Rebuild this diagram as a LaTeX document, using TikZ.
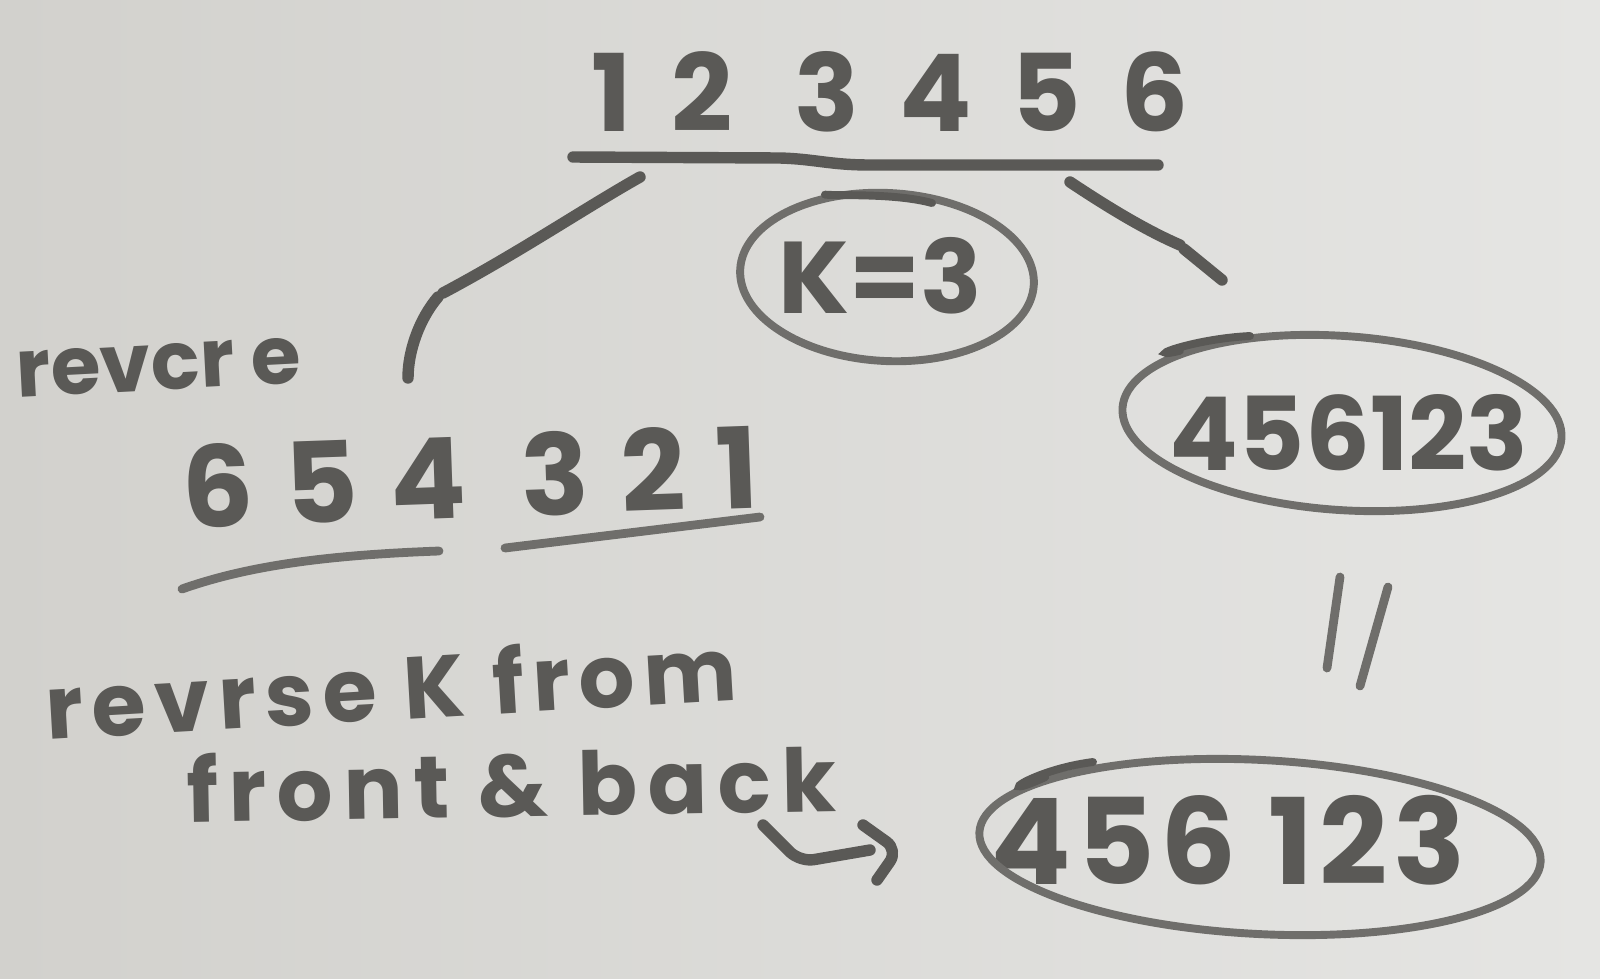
\documentclass[tikz,border=0pt]{standalone}
\usepackage{fontspec}
\setmainfont{Poppins}
\usetikzlibrary{shapes.geometric}
\definecolor{boardlight}{HTML}{E5E5E3}
\definecolor{boarddark}{HTML}{D2D1CD}
\definecolor{ink}{HTML}{5A5956}
\definecolor{inklight}{HTML}{6F6E6B}
\newcommand{\pxu}{0.02cm}
\begin{document}
\begin{tikzpicture}[x=0.02cm,y=-0.02cm,
  ink/.style={draw=ink, line width=6.5pt, line cap=round, line join=round},
  thin ink/.style={draw=inklight, line width=5pt, line cap=round, line join=round},
  loop/.style={draw=inklight, line width=4.5pt, ellipse, inner sep=0pt},
  overlap/.style={draw=ink, line width=4.5pt, line cap=round},
  hand/.style={text=ink, font=\fontsize{#1}{#1}\selectfont\bfseries, inner sep=0pt, anchor=base},
]
\useasboundingbox (0,0) rectangle (1600,978);
\shade[left color=boarddark, right color=boardlight] (0,0) rectangle (1600,978);

% texts
\node[hand=61] (top) at (890,131) {\addfontfeatures{LetterSpace=37}12 3456};
\node[hand=58] (k) at (880,313) {K=3};
\node[hand=46, rotate=3] (revcr) at (160,390) {revcr e};
\node[hand=64, rotate=2] (rev) at (472,518) {\addfontfeatures{LetterSpace=28}654 321};
\node[hand=58] (r1) at (1349,470) {456123};
\node[hand=68] (r2) at (1228,884) {\addfontfeatures{LetterSpace=5}456 123};
\node[hand=50, rotate=3.3] (note1) at (393,720) {\addfontfeatures{LetterSpace=10}revrse K from};
\node[hand=50, rotate=1] (note2) at (512,817) {\addfontfeatures{LetterSpace=12}front \& back};

% circles
\node[loop, rotate=-3, minimum width=294*\pxu, minimum height=168*\pxu] (kc) at (887,277) {};
\node[loop, rotate=-4, minimum width=440*\pxu, minimum height=174*\pxu] (r1c) at (1342,423) {};
\node[loop, rotate=-3, minimum width=562*\pxu, minimum height=174*\pxu] (r2c) at (1260,847) {};
% overlapping pen strokes where each loop was closed
\draw[overlap] (kc.130) .. controls (840,196) and (895,193) .. (932,203);
\draw[overlap] (r1c.160) .. controls (1140,360) and (1190,339) .. (1250,336);
\draw[overlap] (r2c.165) .. controls (990,802) and (1030,770) .. (1093,762);

% top underline
\coordinate (tlA) at (573,157);
\coordinate (tlB) at (1158,165);
\draw[ink] (tlA) -- (780,158) .. controls (815,159) and (830,165) .. (870,165) -- (tlB);

% left branch
\coordinate (lbA) at (640,177);
\coordinate (lbB) at (443,293);
\coordinate (lbB2) at (438,297);
\coordinate (lbC) at (408,378);
\draw[ink] (lbA) .. controls (585,208) and (520,252) .. (lbB);
\draw[ink] (lbB2) .. controls (420,318) and (408,350) .. (lbC);

% right branch
\coordinate (rbA) at (1070,182);
\coordinate (rbK) at (1180,245);
\coordinate (rbK2) at (1184,249);
\coordinate (rbB) at (1222,280);
\draw[ink] (rbA) .. controls (1115,212) and (1150,232) .. (rbK);
\draw[ink] (rbK2) -- (rbB);

% underlines of 654 321
\coordinate (u1a) at (182,589);
\coordinate (u1b) at (439,551);
\coordinate (u2a) at (505,548);
\coordinate (u2b) at (760,517);
\draw[thin ink] (u1a) .. controls (250,565) and (330,555) .. (u1b);
\draw[thin ink] (u2a) -- (u2b);

% equals sign (rotated)
\coordinate (e1a) at (1340,577);
\coordinate (e1b) at (1327,668);
\coordinate (e2a) at (1388,587);
\coordinate (e2b) at (1360,686);
\draw[thin ink] (e1a) -- (e1b);
\draw[thin ink] (e2a) -- (e2b);

% hooked arrow
\coordinate (aT) at (763,825);
\coordinate (aM) at (800,862);
\coordinate (aE) at (870,850);
\coordinate (h1) at (863,825);
\coordinate (h2) at (898,850);
\coordinate (h3) at (877,880);
\draw[ink, rounded corners=8pt] (aT) -- (aM) -- (aE);
\draw[ink, rounded corners=8pt] (h1) -- (h2) -- (h3);
\end{tikzpicture}
\end{document}
